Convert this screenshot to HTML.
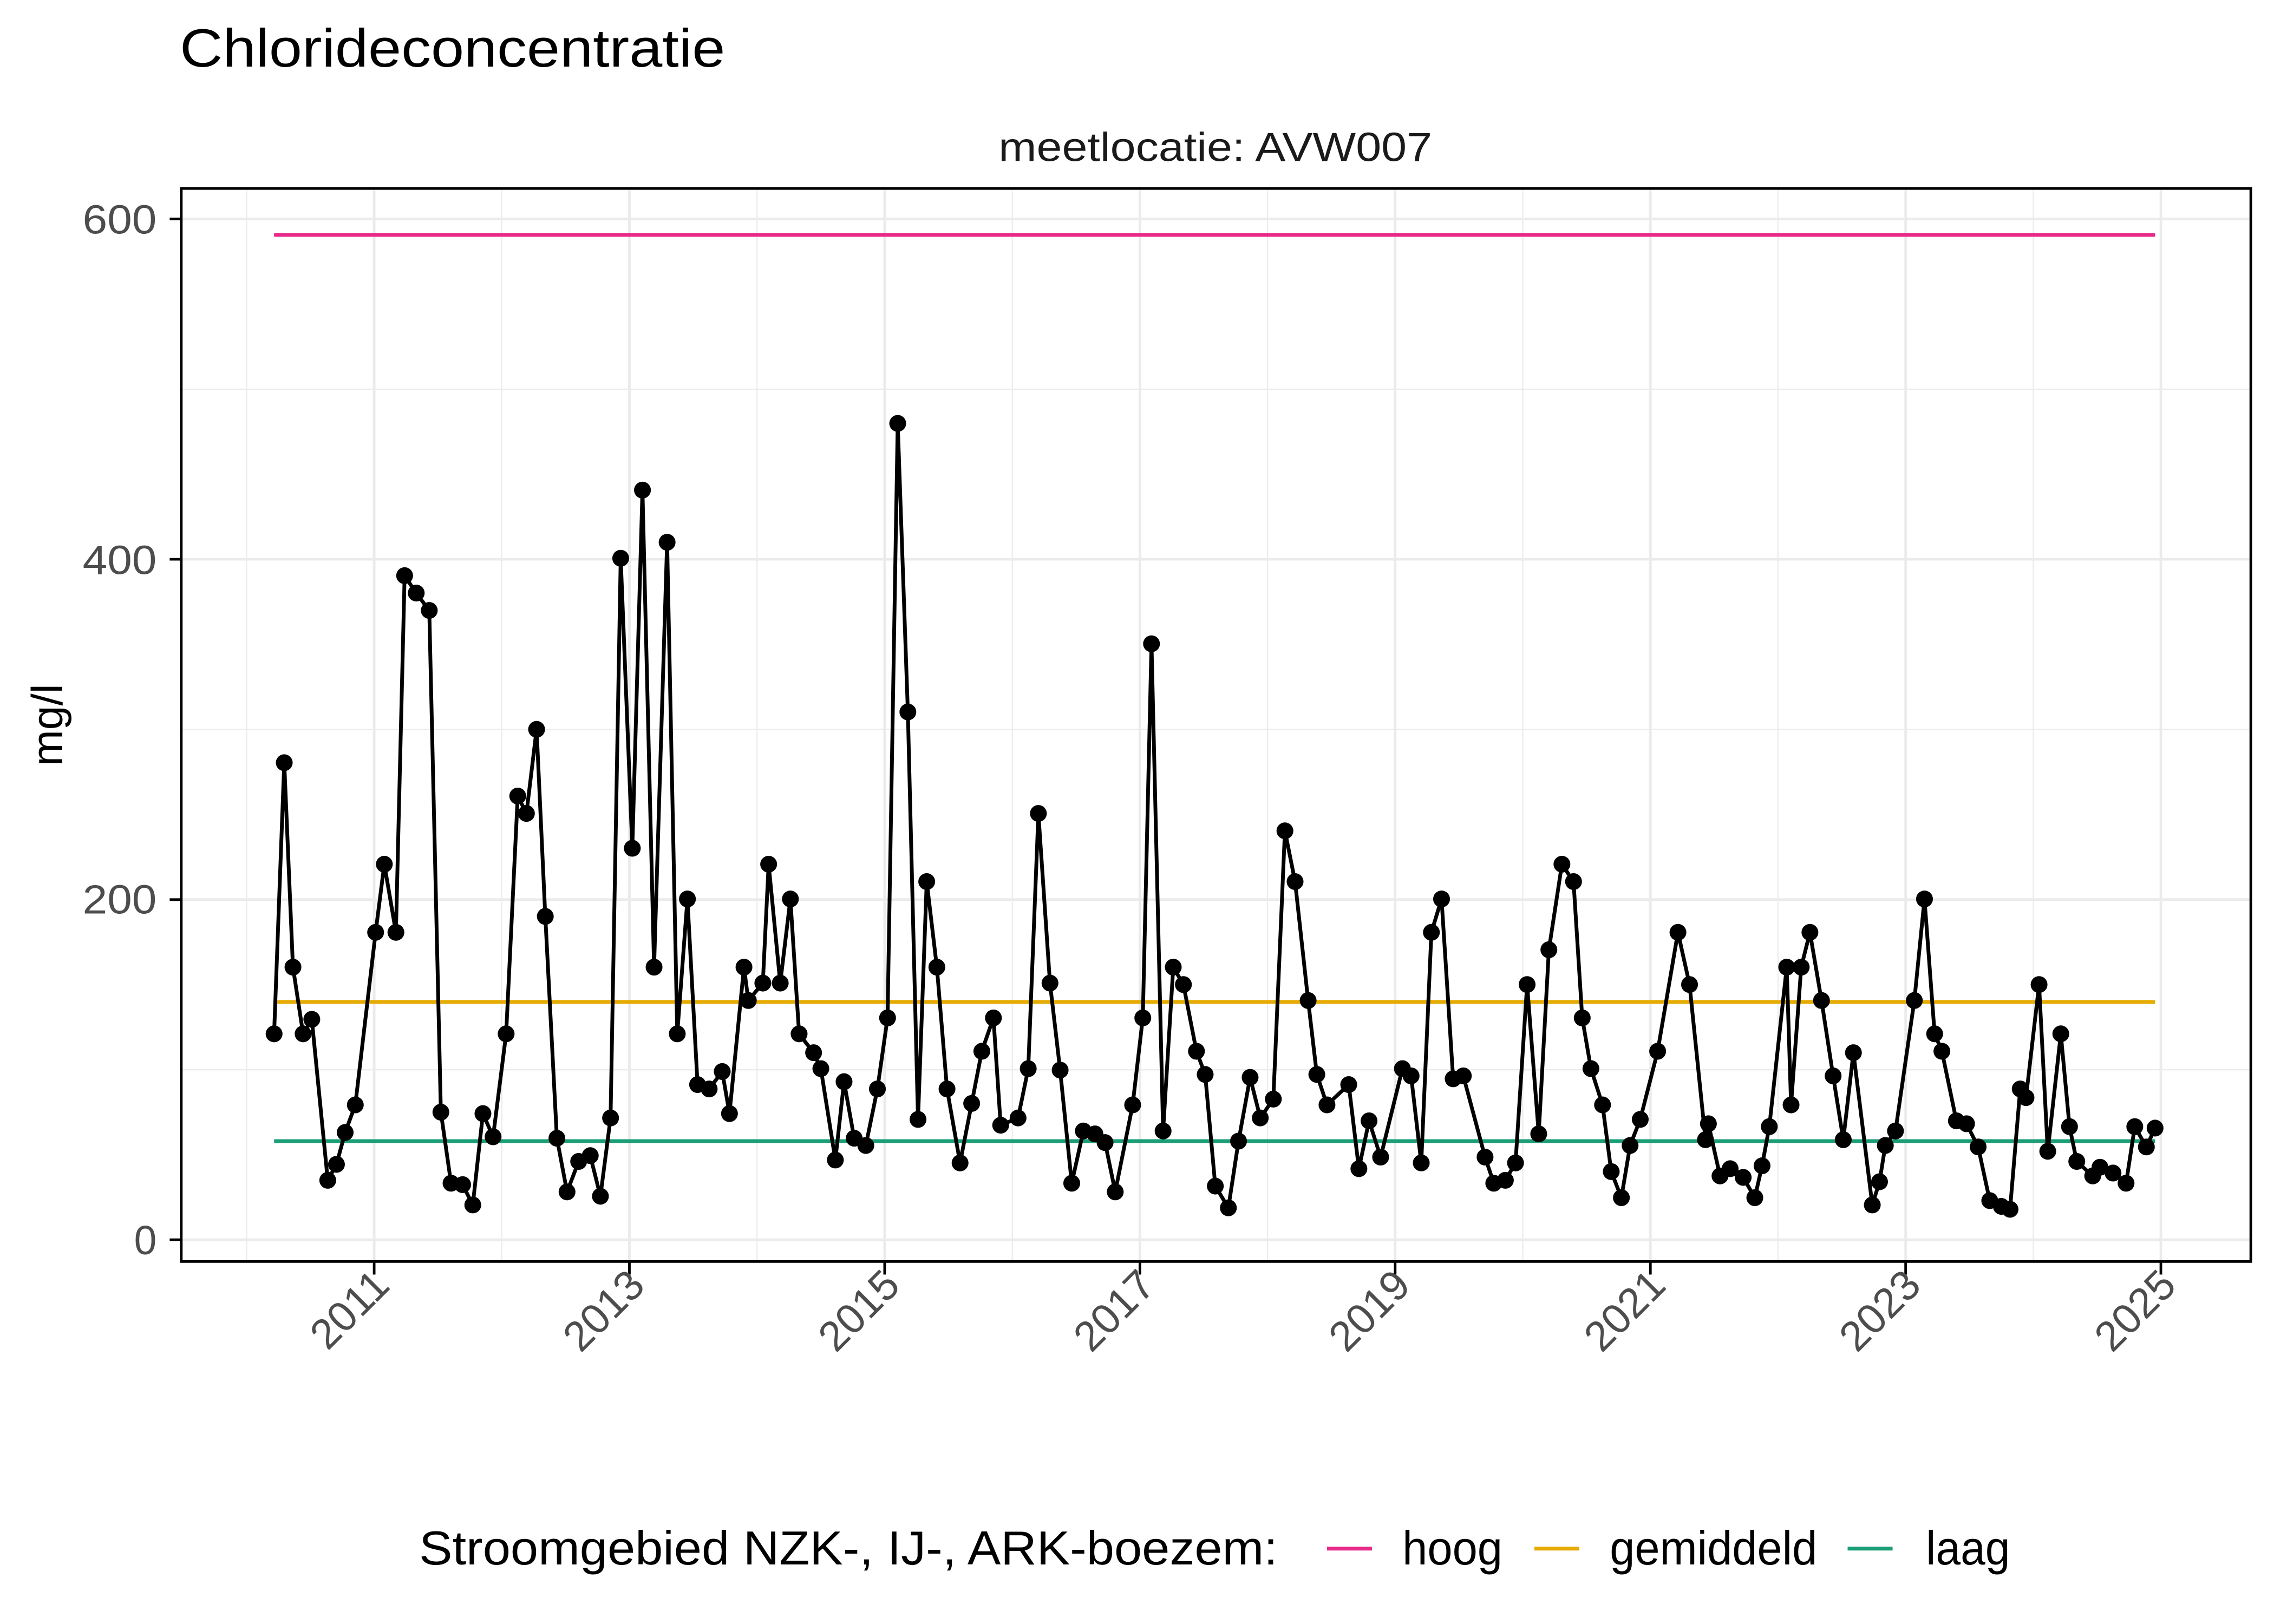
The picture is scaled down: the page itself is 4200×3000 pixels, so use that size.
<!DOCTYPE html>
<html><head><meta charset="utf-8"><style>html,body{margin:0;padding:0;background:#fff}svg{display:block}</style></head>
<body>
<svg xmlns="http://www.w3.org/2000/svg" width="4200" height="3000" viewBox="0 0 1568 1120" preserveAspectRatio="none" font-family="Liberation Sans, Arial, sans-serif">
<rect width="1568" height="1120" fill="#fff"/>
<text x="124" y="46" font-size="37" fill="#000" textLength="376" lengthAdjust="spacingAndGlyphs">Chlorideconcentratie</text>
<text x="838" y="111" font-size="28" text-anchor="middle" fill="#1A1A1A" textLength="299" lengthAdjust="spacingAndGlyphs">meetlocatie: AVW007</text>
<g stroke="#EBEBEB" fill="none">
<g stroke-width="0.8">
<line x1="125" x2="1552" y1="268.4" y2="268.4"/><line x1="125" x2="1552" y1="503.1" y2="503.1"/><line x1="125" x2="1552" y1="737.8" y2="737.8"/>
<line x1="170" x2="170" y1="130" y2="870"/><line x1="346" x2="346" y1="130" y2="870"/><line x1="522" x2="522" y1="130" y2="870"/><line x1="698" x2="698" y1="130" y2="870"/><line x1="874" x2="874" y1="130" y2="870"/><line x1="1050" x2="1050" y1="130" y2="870"/><line x1="1226" x2="1226" y1="130" y2="870"/><line x1="1402" x2="1402" y1="130" y2="870"/>
</g>
<g stroke-width="1.8">
<line x1="125" x2="1552" y1="151" y2="151"/><line x1="125" x2="1552" y1="385.7" y2="385.7"/><line x1="125" x2="1552" y1="620.4" y2="620.4"/><line x1="125" x2="1552" y1="855" y2="855"/>
<line x1="258" x2="258" y1="130" y2="870"/><line x1="434" x2="434" y1="130" y2="870"/><line x1="610" x2="610" y1="130" y2="870"/><line x1="786" x2="786" y1="130" y2="870"/><line x1="962" x2="962" y1="130" y2="870"/><line x1="1138" x2="1138" y1="130" y2="870"/><line x1="1314" x2="1314" y1="130" y2="870"/><line x1="1490" x2="1490" y1="130" y2="870"/>
</g>
</g>
<g stroke-width="2.6">
<line x1="189" x2="1486" y1="162" y2="162" stroke="#E7298A"/>
<line x1="189" x2="1486" y1="691" y2="691" stroke="#E6AB02"/>
<line x1="189" x2="1486" y1="787" y2="787" stroke="#1B9E77"/>
</g>
<polyline fill="none" stroke="#000" stroke-width="2.6" stroke-linejoin="round" points="189,713 196,526 202,667 209,713 215,703 226,814 232,803 238,781 245,762 259,643 265,596 273,643 279,397 287,409 296,421 304,767 311,816 319,817 326,831 333,768 340,784 349,713 357,549 363,561 370,503 376,632 384,785 391,822 399,801 407,797 414,825 421,771 428,385 436,585 443,338 451,667 460,374 467,713 474,620 481,748 489,751 498,739 503,768 513,667 516,690 526,678 530,596 538,678 545,620 551,713 561,726 566,737 576,800 582,746 589,785 597,790 605,751 612,702 619,292 626,491 633,772 639,608 646,667 653,751 662,802 670,761 677,725 685,702 690,776 702,771 709,737 716,561 724,678 731,738 739,816 747,780 755,782 762,788 769,822 781,762 788,702 794,444 802,780 809,667 816,679 825,725 831,741 838,818 847,833 854,787 862,743 869,771 878,758 886,573 893,608 902,690 908,741 915,762 930,748 937,806 944,773 952,798 967,737 973,742 980,802 987,643 994,620 1002,744 1009,742 1024,798 1030,816 1038,814 1045,802 1053,679 1061,782 1068,655 1077,596 1085,608 1091,702 1097,737 1105,762 1111,808 1118,826 1124,790 1131,772 1143,725 1157,643 1165,679 1176,786 1178,775 1186,811 1193,806 1202,812 1210,826 1215,804 1220,777 1232,667 1235,762 1242,667 1248,643 1256,690 1264,742 1271,786 1278,726 1291,831 1296,815 1300,790 1307,780 1320,690 1327,620 1334,713 1339,725 1349,773 1356,775 1364,791 1372,828 1380,832 1386,834 1393,751 1397,757 1406,679 1412,794 1421,713 1427,777 1432,801 1443,811 1448,805 1457,809 1466,816 1472,777 1480,791 1486,778"/>
<rect x="125" y="130" width="1427" height="740" fill="none" stroke="#000" stroke-width="1.8"/>
<g stroke="#000" stroke-width="1.8">
<line x1="117" x2="125" y1="151" y2="151"/><line x1="117" x2="125" y1="385.7" y2="385.7"/><line x1="117" x2="125" y1="620.4" y2="620.4"/><line x1="117" x2="125" y1="855" y2="855"/>
<line x1="258" x2="258" y1="870" y2="879"/><line x1="434" x2="434" y1="870" y2="879"/><line x1="610" x2="610" y1="870" y2="879"/><line x1="786" x2="786" y1="870" y2="879"/><line x1="962" x2="962" y1="870" y2="879"/><line x1="1138" x2="1138" y1="870" y2="879"/><line x1="1314" x2="1314" y1="870" y2="879"/><line x1="1490" x2="1490" y1="870" y2="879"/>
</g>
<g font-size="28" fill="#4D4D4D" text-anchor="end">
<text x="108" y="161" textLength="51" lengthAdjust="spacingAndGlyphs">600</text><text x="108" y="396" textLength="51" lengthAdjust="spacingAndGlyphs">400</text><text x="108" y="630" textLength="51" lengthAdjust="spacingAndGlyphs">200</text><text x="108" y="865">0</text>
</g>
<g font-size="29" fill="#4D4D4D" text-anchor="end">
<text transform="translate(270,888) rotate(-45)">2011</text>
<text transform="translate(446,888) rotate(-45)">2013</text>
<text transform="translate(622,888) rotate(-45)">2015</text>
<text transform="translate(798,888) rotate(-45)">2017</text>
<text transform="translate(974,888) rotate(-45)">2019</text>
<text transform="translate(1150,888) rotate(-45)">2021</text>
<text transform="translate(1326,888) rotate(-45)">2023</text>
<text transform="translate(1502,888) rotate(-45)">2025</text>
</g>
<text transform="translate(43,500) rotate(-90)" font-size="30" text-anchor="middle" fill="#000">mg/l</text>
<g font-size="33" fill="#000">
<text x="289" y="1079" textLength="592" lengthAdjust="spacingAndGlyphs">Stroomgebied NZK-, IJ-, ARK-boezem:</text>
<text x="967" y="1079" textLength="69" lengthAdjust="spacingAndGlyphs">hoog</text>
<text x="1110" y="1079" textLength="143" lengthAdjust="spacingAndGlyphs">gemiddeld</text>
<text x="1328" y="1079" textLength="58" lengthAdjust="spacingAndGlyphs">laag</text>
</g>
<g stroke-width="2.6">
<line x1="915" x2="946" y1="1068" y2="1068" stroke="#E7298A"/>
<line x1="1058" x2="1089" y1="1068" y2="1068" stroke="#E6AB02"/>
<line x1="1274" x2="1305" y1="1068" y2="1068" stroke="#1B9E77"/>
</g>
<g fill="#000">
<circle cx="189" cy="713" r="5.8"/><circle cx="196" cy="526" r="5.8"/><circle cx="202" cy="667" r="5.8"/><circle cx="209" cy="713" r="5.8"/><circle cx="215" cy="703" r="5.8"/><circle cx="226" cy="814" r="5.8"/><circle cx="232" cy="803" r="5.8"/><circle cx="238" cy="781" r="5.8"/><circle cx="245" cy="762" r="5.8"/><circle cx="259" cy="643" r="5.8"/><circle cx="265" cy="596" r="5.8"/><circle cx="273" cy="643" r="5.8"/><circle cx="279" cy="397" r="5.8"/><circle cx="287" cy="409" r="5.8"/><circle cx="296" cy="421" r="5.8"/><circle cx="304" cy="767" r="5.8"/><circle cx="311" cy="816" r="5.8"/><circle cx="319" cy="817" r="5.8"/><circle cx="326" cy="831" r="5.8"/><circle cx="333" cy="768" r="5.8"/><circle cx="340" cy="784" r="5.8"/><circle cx="349" cy="713" r="5.8"/><circle cx="357" cy="549" r="5.8"/><circle cx="363" cy="561" r="5.8"/><circle cx="370" cy="503" r="5.8"/><circle cx="376" cy="632" r="5.8"/><circle cx="384" cy="785" r="5.8"/><circle cx="391" cy="822" r="5.8"/><circle cx="399" cy="801" r="5.8"/><circle cx="407" cy="797" r="5.8"/><circle cx="414" cy="825" r="5.8"/><circle cx="421" cy="771" r="5.8"/><circle cx="428" cy="385" r="5.8"/><circle cx="436" cy="585" r="5.8"/><circle cx="443" cy="338" r="5.8"/><circle cx="451" cy="667" r="5.8"/><circle cx="460" cy="374" r="5.8"/><circle cx="467" cy="713" r="5.8"/><circle cx="474" cy="620" r="5.8"/><circle cx="481" cy="748" r="5.8"/><circle cx="489" cy="751" r="5.8"/><circle cx="498" cy="739" r="5.8"/><circle cx="503" cy="768" r="5.8"/><circle cx="513" cy="667" r="5.8"/><circle cx="516" cy="690" r="5.8"/><circle cx="526" cy="678" r="5.8"/><circle cx="530" cy="596" r="5.8"/><circle cx="538" cy="678" r="5.8"/><circle cx="545" cy="620" r="5.8"/><circle cx="551" cy="713" r="5.8"/><circle cx="561" cy="726" r="5.8"/><circle cx="566" cy="737" r="5.8"/><circle cx="576" cy="800" r="5.8"/><circle cx="582" cy="746" r="5.8"/><circle cx="589" cy="785" r="5.8"/><circle cx="597" cy="790" r="5.8"/><circle cx="605" cy="751" r="5.8"/><circle cx="612" cy="702" r="5.8"/><circle cx="619" cy="292" r="5.8"/><circle cx="626" cy="491" r="5.8"/><circle cx="633" cy="772" r="5.8"/><circle cx="639" cy="608" r="5.8"/><circle cx="646" cy="667" r="5.8"/><circle cx="653" cy="751" r="5.8"/><circle cx="662" cy="802" r="5.8"/><circle cx="670" cy="761" r="5.8"/><circle cx="677" cy="725" r="5.8"/><circle cx="685" cy="702" r="5.8"/><circle cx="690" cy="776" r="5.8"/><circle cx="702" cy="771" r="5.8"/><circle cx="709" cy="737" r="5.8"/><circle cx="716" cy="561" r="5.8"/><circle cx="724" cy="678" r="5.8"/><circle cx="731" cy="738" r="5.8"/><circle cx="739" cy="816" r="5.8"/><circle cx="747" cy="780" r="5.8"/><circle cx="755" cy="782" r="5.8"/><circle cx="762" cy="788" r="5.8"/><circle cx="769" cy="822" r="5.8"/><circle cx="781" cy="762" r="5.8"/><circle cx="788" cy="702" r="5.8"/><circle cx="794" cy="444" r="5.8"/><circle cx="802" cy="780" r="5.8"/><circle cx="809" cy="667" r="5.8"/><circle cx="816" cy="679" r="5.8"/><circle cx="825" cy="725" r="5.8"/><circle cx="831" cy="741" r="5.8"/><circle cx="838" cy="818" r="5.8"/><circle cx="847" cy="833" r="5.8"/><circle cx="854" cy="787" r="5.8"/><circle cx="862" cy="743" r="5.8"/><circle cx="869" cy="771" r="5.8"/><circle cx="878" cy="758" r="5.8"/><circle cx="886" cy="573" r="5.8"/><circle cx="893" cy="608" r="5.8"/><circle cx="902" cy="690" r="5.8"/><circle cx="908" cy="741" r="5.8"/><circle cx="915" cy="762" r="5.8"/><circle cx="930" cy="748" r="5.8"/><circle cx="937" cy="806" r="5.8"/><circle cx="944" cy="773" r="5.8"/><circle cx="952" cy="798" r="5.8"/><circle cx="967" cy="737" r="5.8"/><circle cx="973" cy="742" r="5.8"/><circle cx="980" cy="802" r="5.8"/><circle cx="987" cy="643" r="5.8"/><circle cx="994" cy="620" r="5.8"/><circle cx="1002" cy="744" r="5.8"/><circle cx="1009" cy="742" r="5.8"/><circle cx="1024" cy="798" r="5.8"/><circle cx="1030" cy="816" r="5.8"/><circle cx="1038" cy="814" r="5.8"/><circle cx="1045" cy="802" r="5.8"/><circle cx="1053" cy="679" r="5.8"/><circle cx="1061" cy="782" r="5.8"/><circle cx="1068" cy="655" r="5.8"/><circle cx="1077" cy="596" r="5.8"/><circle cx="1085" cy="608" r="5.8"/><circle cx="1091" cy="702" r="5.8"/><circle cx="1097" cy="737" r="5.8"/><circle cx="1105" cy="762" r="5.8"/><circle cx="1111" cy="808" r="5.8"/><circle cx="1118" cy="826" r="5.8"/><circle cx="1124" cy="790" r="5.8"/><circle cx="1131" cy="772" r="5.8"/><circle cx="1143" cy="725" r="5.8"/><circle cx="1157" cy="643" r="5.8"/><circle cx="1165" cy="679" r="5.8"/><circle cx="1176" cy="786" r="5.8"/><circle cx="1178" cy="775" r="5.8"/><circle cx="1186" cy="811" r="5.8"/><circle cx="1193" cy="806" r="5.8"/><circle cx="1202" cy="812" r="5.8"/><circle cx="1210" cy="826" r="5.8"/><circle cx="1215" cy="804" r="5.8"/><circle cx="1220" cy="777" r="5.8"/><circle cx="1232" cy="667" r="5.8"/><circle cx="1235" cy="762" r="5.8"/><circle cx="1242" cy="667" r="5.8"/><circle cx="1248" cy="643" r="5.8"/><circle cx="1256" cy="690" r="5.8"/><circle cx="1264" cy="742" r="5.8"/><circle cx="1271" cy="786" r="5.8"/><circle cx="1278" cy="726" r="5.8"/><circle cx="1291" cy="831" r="5.8"/><circle cx="1296" cy="815" r="5.8"/><circle cx="1300" cy="790" r="5.8"/><circle cx="1307" cy="780" r="5.8"/><circle cx="1320" cy="690" r="5.8"/><circle cx="1327" cy="620" r="5.8"/><circle cx="1334" cy="713" r="5.8"/><circle cx="1339" cy="725" r="5.8"/><circle cx="1349" cy="773" r="5.8"/><circle cx="1356" cy="775" r="5.8"/><circle cx="1364" cy="791" r="5.8"/><circle cx="1372" cy="828" r="5.8"/><circle cx="1380" cy="832" r="5.8"/><circle cx="1386" cy="834" r="5.8"/><circle cx="1393" cy="751" r="5.8"/><circle cx="1397" cy="757" r="5.8"/><circle cx="1406" cy="679" r="5.8"/><circle cx="1412" cy="794" r="5.8"/><circle cx="1421" cy="713" r="5.8"/><circle cx="1427" cy="777" r="5.8"/><circle cx="1432" cy="801" r="5.8"/><circle cx="1443" cy="811" r="5.8"/><circle cx="1448" cy="805" r="5.8"/><circle cx="1457" cy="809" r="5.8"/><circle cx="1466" cy="816" r="5.8"/><circle cx="1472" cy="777" r="5.8"/><circle cx="1480" cy="791" r="5.8"/><circle cx="1486" cy="778" r="5.8"/>
</g>
</svg>
</body></html>
